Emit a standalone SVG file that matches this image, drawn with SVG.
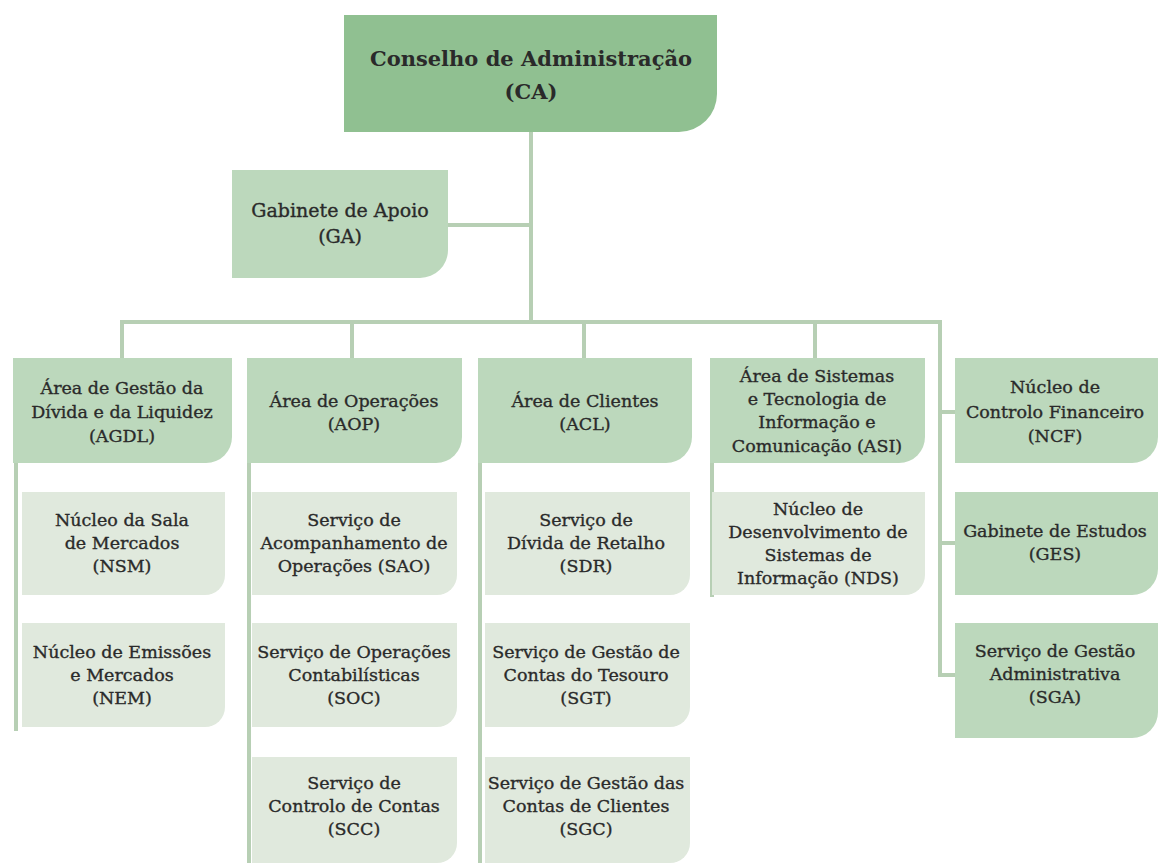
<svg xmlns="http://www.w3.org/2000/svg" width="1159" height="863" viewBox="0 0 1159 863">
<style>
.bg{fill:#ffffff}
.ca{fill:#90c091}
.hd{fill:#bcd8bc}
.sb{fill:#e0e9dd}
.ln{fill:none;stroke:#b7cfb4;stroke-width:4}
text{font-family:"DejaVu Serif","Liberation Serif",serif;font-size:17.5px;fill:#2a2a2a;stroke:#2a2a2a;stroke-width:0.35;text-anchor:middle}
.big{font-size:21px;font-weight:bold;stroke-width:0}
.mid{font-size:19px}
</style>
<rect class="bg" x="0" y="0" width="1159" height="863"/>
<g id="connectors">
<path class="ln" d="M531,132 V322"/>
<path class="ln" d="M448,225 H531"/>
<path class="ln" d="M122,358 V322 H940 V677"/>
<path class="ln" d="M352,322 V358"/>
<path class="ln" d="M584,322 V358"/>
<path class="ln" d="M815,322 V358"/>
<path class="ln" d="M940,412 H955"/>
<path class="ln" d="M940,543 H955"/>
<path class="ln" d="M940,675 H955"/>
<path class="ln" d="M16,440 V731"/>
<path class="ln" d="M249,440 V863"/>
<path class="ln" d="M480,440 V863"/>
<path class="ln" d="M712,440 V597"/>
</g>
<g id="CA">
<path class="ca" d="M344,15 H717 V94 A38,38 0 0 1 679,132 H344 Z"/>
<text class="big" x="531" y="66">Conselho de Administração</text>
<text class="big" x="531" y="99">(CA)</text>
</g>
<g id="GA">
<path class="hd" d="M232,170 H448 V250 A28,28 0 0 1 420,278 H232 Z"/>
<text class="mid" x="340" y="217">Gabinete de Apoio</text>
<text class="mid" x="340" y="243">(GA)</text>
</g>
<g id="AGDL">
<path class="hd" d="M13,358 H232 V437 A26,26 0 0 1 206,463 H13 Z"/>
<text x="122" y="394">Área de Gestão da</text>
<text x="122" y="418">Dívida e da Liquidez</text>
<text x="122" y="442">(AGDL)</text>
</g>
<g id="AOP">
<path class="hd" d="M247,358 H462 V437 A26,26 0 0 1 436,463 H247 Z"/>
<text x="354" y="407">Área de Operações</text>
<text x="354" y="430">(AOP)</text>
</g>
<g id="ACL">
<path class="hd" d="M478,358 H692 V437 A26,26 0 0 1 666,463 H478 Z"/>
<text x="585" y="407">Área de Clientes</text>
<text x="585" y="430">(ACL)</text>
</g>
<g id="ASI">
<path class="hd" d="M710,358 H925 V437 A26,26 0 0 1 899,463 H710 Z"/>
<text x="817" y="382">Área de Sistemas</text>
<text x="817" y="405">e Tecnologia de</text>
<text x="817" y="428">Informação e</text>
<text x="817" y="452">Comunicação (ASI)</text>
</g>
<g id="NCF">
<path class="hd" d="M955,358 H1158 V437 A26,26 0 0 1 1132,463 H955 Z"/>
<text x="1055" y="393">Núcleo de</text>
<text x="1055" y="418">Controlo Financeiro</text>
<text x="1055" y="442">(NCF)</text>
</g>
<g id="GES">
<path class="hd" d="M955,492 H1158 V569 A26,26 0 0 1 1132,595 H955 Z"/>
<text x="1055" y="537">Gabinete de Estudos</text>
<text x="1055" y="560">(GES)</text>
</g>
<g id="SGA">
<path class="hd" d="M955,623 H1158 V712 A26,26 0 0 1 1132,738 H955 Z"/>
<text x="1055" y="657">Serviço de Gestão</text>
<text x="1055" y="680">Administrativa</text>
<text x="1055" y="703">(SGA)</text>
</g>
<g id="NSM">
<path class="sb" d="M22,492 H225 V575 A20,20 0 0 1 205,595 H22 Z"/>
<text x="122" y="526">Núcleo da Sala</text>
<text x="122" y="549">de Mercados</text>
<text x="122" y="572">(NSM)</text>
</g>
<g id="NEM">
<path class="sb" d="M22,623 H225 V707 A20,20 0 0 1 205,727 H22 Z"/>
<text x="122" y="658">Núcleo de Emissões</text>
<text x="122" y="681">e Mercados</text>
<text x="122" y="704">(NEM)</text>
</g>
<g id="SAO">
<path class="sb" d="M252,492 H457 V575 A20,20 0 0 1 437,595 H252 Z"/>
<text x="354" y="526">Serviço de</text>
<text x="354" y="549">Acompanhamento de</text>
<text x="354" y="572">Operações (SAO)</text>
</g>
<g id="SOC">
<path class="sb" d="M252,623 H457 V707 A20,20 0 0 1 437,727 H252 Z"/>
<text x="354" y="658">Serviço de Operações</text>
<text x="354" y="681">Contabilísticas</text>
<text x="354" y="704">(SOC)</text>
</g>
<g id="SCC">
<path class="sb" d="M252,757 H457 V843 A20,20 0 0 1 437,863 H252 Z"/>
<text x="354" y="789">Serviço de</text>
<text x="354" y="812">Controlo de Contas</text>
<text x="354" y="835">(SCC)</text>
</g>
<g id="SDR">
<path class="sb" d="M485,492 H690 V575 A20,20 0 0 1 670,595 H485 Z"/>
<text x="586" y="526">Serviço de</text>
<text x="586" y="549">Dívida de Retalho</text>
<text x="586" y="572">(SDR)</text>
</g>
<g id="SGT">
<path class="sb" d="M485,623 H690 V707 A20,20 0 0 1 670,727 H485 Z"/>
<text x="586" y="658">Serviço de Gestão de</text>
<text x="586" y="681">Contas do Tesouro</text>
<text x="586" y="704">(SGT)</text>
</g>
<g id="SGC">
<path class="sb" d="M485,757 H690 V843 A20,20 0 0 1 670,863 H485 Z"/>
<text x="586" y="789">Serviço de Gestão das</text>
<text x="586" y="812">Contas de Clientes</text>
<text x="586" y="835">(SGC)</text>
</g>
<g id="NDS">
<path class="sb" d="M712,492 H925 V575 A20,20 0 0 1 905,595 H712 Z"/>
<text x="818" y="515">Núcleo de</text>
<text x="818" y="538">Desenvolvimento de</text>
<text x="818" y="561">Sistemas de</text>
<text x="818" y="584">Informação (NDS)</text>
</g>
</svg>
